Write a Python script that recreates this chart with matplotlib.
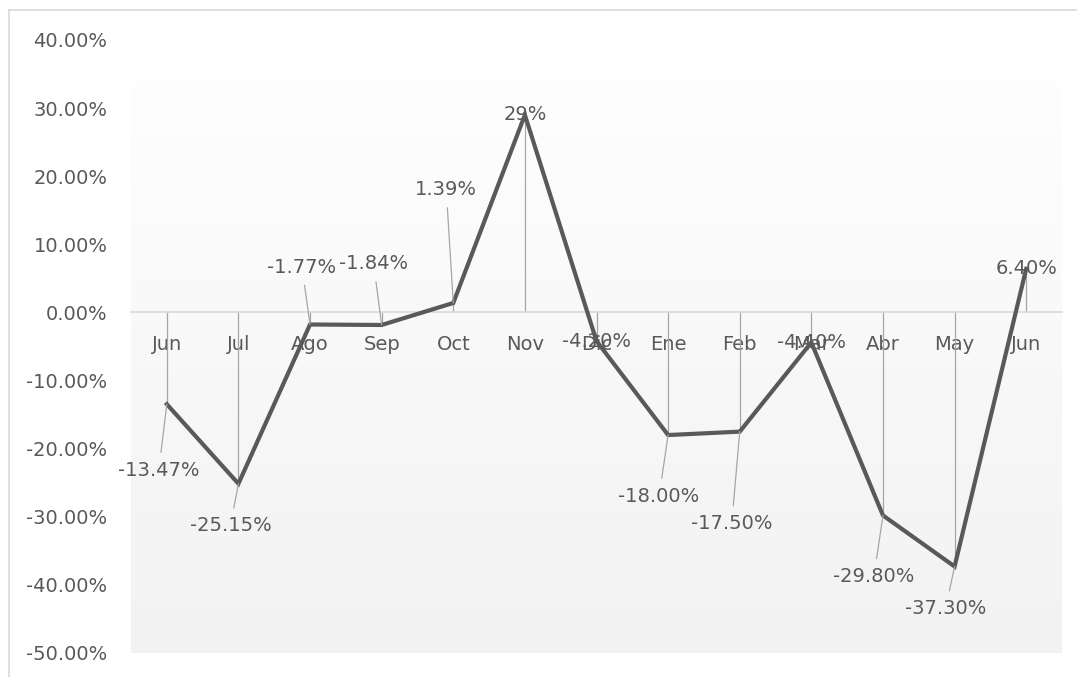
import numpy as np
import matplotlib
matplotlib.use("Agg")
import matplotlib.pyplot as plt
from matplotlib.lines import Line2D

# monthly change, percent
months = ['Jun', 'Jul', 'Ago', 'Sep', 'Oct', 'Nov', 'Dic',
          'Ene', 'Feb', 'Mar', 'Abr', 'May', 'Jun']
values = [-13.47, -25.15, -1.77, -1.84, 1.39, 29.0, -4.20,
          -18.00, -17.50, -4.40, -29.80, -37.30, 6.40]
point_labels = ['-13.47%', '-25.15%', '-1.77%', '-1.84%', '1.39%', '29%', '-4.20%',
                '-18.00%', '-17.50%', '-4.40%', '-29.80%', '-37.30%', '6.40%']
yticks = [40, 30, 20, 10, 0, -10, -20, -30, -40, -50]

# where each data label sits relative to its point (pixels)
label_offsets = [(-8, -66), (-8, -42), (-8, 57), (-8, 61), (-7, 113), (0, 0), (0, 0),
                 (-9, -61), (-8, -92), (0, 0), (-9, -61), (-9, -42), (0, 0)]

text_col = '#595959'
fs = 14
plt.rcParams['font.family'] = ['DejaVu Sans']

fig = plt.figure(figsize=(10.77, 6.77), dpi=100)
W, H = 1077, 677
ax = fig.add_axes([131 / W, (H - 653) / H, (1062 - 131) / W, (653 - 40) / H])

x = np.arange(len(months))
ax.set_xlim(-0.5, len(months) - 0.5)
ax.set_ylim(-50, 40)

# light vertical gradient in the plot area
grad = np.linspace(255, 242, 256) ** 1.0
grad = grad.reshape(-1, 1) / 255.0
ax.imshow(np.dstack([grad, grad, grad]), extent=(-0.5, len(months) - 0.5, -50, 40),
          aspect='auto', origin='upper', zorder=0)

for s in ['top', 'right', 'left']:
    ax.spines[s].set_visible(False)
ax.spines['bottom'].set_position(('data', 0))
ax.spines['bottom'].set_color('#d9d9d9')
ax.spines['bottom'].set_linewidth(1.2)

ax.set_xticks(x)
ax.set_xticklabels(months)
ax.set_yticks(yticks)
ax.set_yticklabels([f'{v:.2f}%' for v in yticks])
ax.tick_params(axis='x', length=0, pad=16, labelsize=fs, colors=text_col)
ax.tick_params(axis='y', length=0, pad=17, labelsize=fs, colors=text_col)

# drop lines
ax.vlines(x, 0, values, color='#a6a6a6', lw=0.9, zorder=2)
ax.plot(x, values, color='#595959', lw=3.0, zorder=3, solid_joinstyle='miter')

for xi, v, lab, (dx, dy) in zip(x, values, point_labels, label_offsets):
    if dx == 0 and dy == 0:
        ax.annotate(lab, (xi, v), xytext=(0, 0), textcoords='offset pixels',
                    ha='center', va='center', fontsize=fs, color=text_col, zorder=5)
    else:
        ax.annotate(lab, (xi, v), xytext=(dx, dy), textcoords='offset pixels',
                    ha='center', va='center', fontsize=fs, color=text_col, zorder=5,
                    arrowprops=dict(arrowstyle='-', color='#a6a6a6', lw=0.9,
                                    shrinkA=4, shrinkB=0))

# chart border
fig.add_artist(Line2D([9 / W, 1.01], [1 - 10 / H, 1 - 10 / H], color='#d9d9d9', lw=1.2,
                      transform=fig.transFigure))
fig.add_artist(Line2D([9 / W, 9 / W], [1 - 10 / H, -0.01], color='#d9d9d9', lw=1.2,
                      transform=fig.transFigure))

fig.savefig('out.png', dpi=100)
